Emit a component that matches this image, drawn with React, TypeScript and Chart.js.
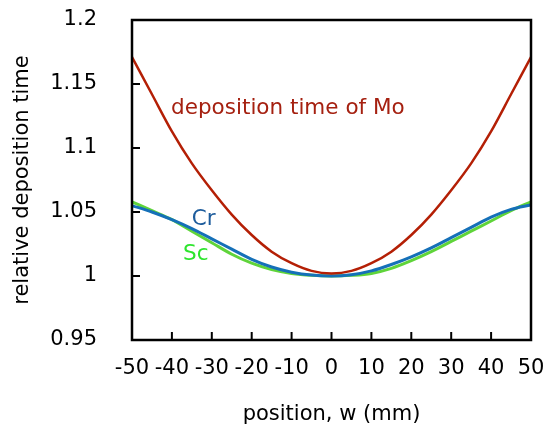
import React, { useEffect, useRef } from "react";
import { Chart, registerables } from "chart.js";

Chart.register(...registerables);

const positions = [-50, -45, -40, -35, -30, -25, -20, -15, -10, -5, 0, 5, 10, 15, 20, 25, 30, 35, 40, 45, 50];
const moValues = [1.171, 1.142, 1.113, 1.088, 1.067, 1.048, 1.032, 1.019, 1.010, 1.004, 1.002, 1.004, 1.010, 1.019, 1.032, 1.048, 1.067, 1.088, 1.113, 1.142, 1.171];
const crValues = [1.055, 1.050, 1.044, 1.037, 1.029, 1.021, 1.013, 1.007, 1.003, 1.0007, 1.000, 1.001, 1.004, 1.009, 1.015, 1.022, 1.030, 1.038, 1.046, 1.052, 1.0555];
const scValues = [1.058, 1.051, 1.044, 1.035, 1.026, 1.017, 1.010, 1.005, 1.002, 1.0005, 1.000, 1.0005, 1.002, 1.006, 1.012, 1.019, 1.027, 1.035, 1.043, 1.051, 1.058];

const xTicks = [-50, -40, -30, -20, -10, 0, 10, 20, 30, 40, 50];
const xTickLabels = ["-50", "-40", "-30", "-20", "-10", "0", "10", "20", "30", "40", "50"];
const yTicks = [0.95, 1, 1.05, 1.1, 1.15, 1.2];
const yTickLabels = ["0.95", "1", "1.05", "1.1", "1.15", "1.2"];

const seriesNames = ["deposition time of Mo", "Cr", "Sc"];
const lineColors = ["#b41f05", "#1570b8", "#5fd43a"];
const labelColors = ["#a52010", "#1d5c9c", "#2de52d"];
// label anchors in data units (x position, y value at text baseline)
const labelX = [-40.2, -35, -37.2];
const labelY = [1.1266, 1.0398, 1.0125];

const xTitle = "position, w (mm)";
const yTitle = "relative deposition time";

const FONT = "'DejaVu Sans', sans-serif";

const framePlugin = {
  id: "frameAndLabels",
  afterDatasetsDraw(chart: any) {
    const { ctx, chartArea: a, scales } = chart;
    const xs = scales.x;
    const ys = scales.y;
    ctx.save();
    ctx.font = `21.5px ${FONT}`;
    ctx.textBaseline = "alphabetic";
    ctx.textAlign = "left";
    for (let i = 0; i < seriesNames.length; i++) {
      ctx.fillStyle = labelColors[i];
      ctx.fillText(seriesNames[i], xs.getPixelForValue(labelX[i]), ys.getPixelForValue(labelY[i]));
    }
    ctx.strokeStyle = "#000";
    ctx.lineWidth = 2.5;
    ctx.strokeRect(a.left, a.top, a.right - a.left, a.bottom - a.top);
    ctx.lineWidth = 2;
    ctx.beginPath();
    for (const v of yTicks) {
      const py = ys.getPixelForValue(v);
      ctx.moveTo(a.left, py);
      ctx.lineTo(a.left + 8, py);
    }
    for (const v of xTicks) {
      const px = xs.getPixelForValue(v);
      ctx.moveTo(px, a.bottom);
      ctx.lineTo(px, a.bottom - 8);
    }
    ctx.stroke();
    ctx.restore();
  },
};

function makeData(values: number[]) {
  return positions.map((p, i) => ({ x: p, y: values[i] }));
}

export default function App() {
  const ref = useRef<HTMLCanvasElement | null>(null);
  useEffect(() => {
    if (!ref.current) return;
    const allValues = [moValues, crValues, scValues];
    const chart = new Chart(ref.current, {
      type: "line",
      data: {
        datasets: allValues.map((vals, i) => ({
          label: seriesNames[i],
          data: makeData(vals),
          borderColor: lineColors[i],
          backgroundColor: lineColors[i],
          borderWidth: i === 0 ? 2.5 : 3,
          pointRadius: 0,
          cubicInterpolationMode: "monotone" as const,
          fill: false,
          order: i,
        })),
      },
      options: {
        responsive: false,
        animation: false,
        devicePixelRatio: 1,
        layout: { padding: { left: 0, right: 14, top: 20, bottom: 0 } },
        plugins: {
          legend: { display: false },
          tooltip: { enabled: false },
        },
        scales: {
          x: {
            type: "linear",
            min: -50,
            max: 50,
            afterBuildTicks: (s: any) => {
              s.ticks = xTicks.map((v) => ({ value: v }));
            },
            afterFit: (s: any) => {
              s.height = 88;
              s.paddingLeft = 0;
              s.paddingRight = 0;
            },
            grid: { display: false, drawTicks: false },
            border: { display: false },
            ticks: {
              autoSkip: false,
              maxRotation: 0,
              padding: 16,
              color: "#000",
              font: { family: FONT, size: 21 },
              callback: (v: any) => xTickLabels[xTicks.indexOf(Number(v))] ?? String(v),
            },
            title: {
              display: true,
              text: xTitle,
              color: "#000",
              font: { family: FONT, size: 21 },
              padding: { top: 0, bottom: 1 },
            },
          },
          y: {
            type: "linear",
            min: 0.95,
            max: 1.2,
            afterBuildTicks: (s: any) => {
              s.ticks = yTicks.map((v) => ({ value: v }));
            },
            afterFit: (s: any) => {
              s.width = 132;
              s.paddingTop = 0;
              s.paddingBottom = 0;
            },
            grid: { display: false, drawTicks: false },
            border: { display: false },
            ticks: {
              autoSkip: false,
              padding: 35,
              color: "#000",
              font: { family: FONT, size: 21 },
              callback: (v: any) => {
                const idx = yTicks.findIndex((t) => Math.abs(t - Number(v)) < 1e-9);
                return idx >= 0 ? yTickLabels[idx] : String(v);
              },
            },
            title: {
              display: true,
              text: yTitle,
              color: "#000",
              font: { family: FONT, size: 21 },
              padding: { top: 10, bottom: 0 },
            },
          },
        },
      },
      plugins: [framePlugin],
    });
    return () => chart.destroy();
  }, []);

  return (
    <div style={{ position: "absolute", left: 0, top: 0, width: 545, height: 428, background: "#fff" }}>
      <canvas ref={ref} width={545} height={428} style={{ display: "block" }} />
    </div>
  );
}
